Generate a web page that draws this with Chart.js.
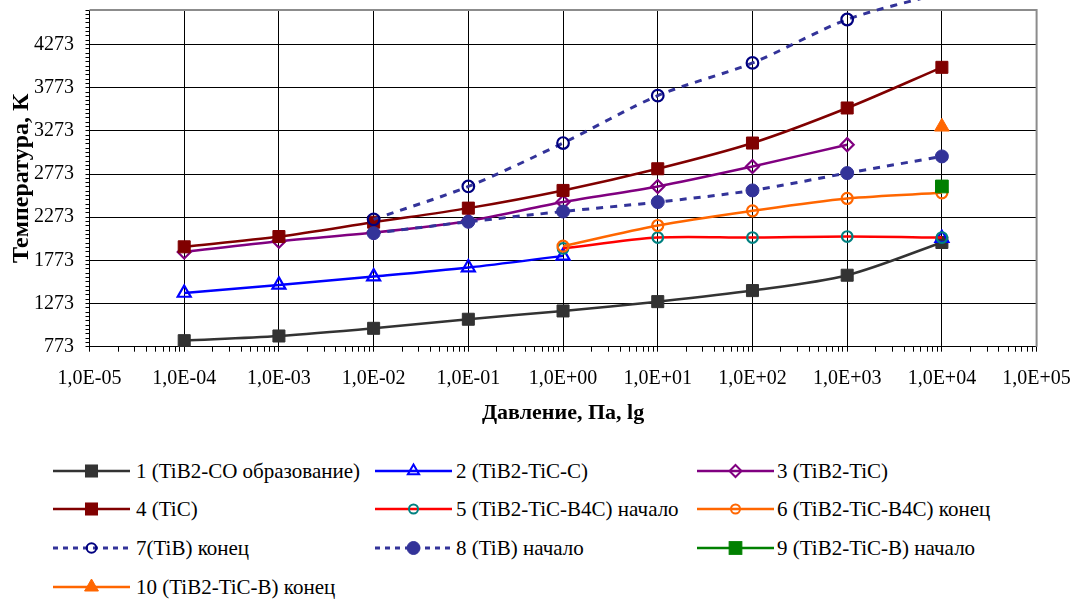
<!DOCTYPE html>
<html>
<head>
<meta charset="utf-8">
<script src="https://cdn.jsdelivr.net/npm/chart.js@4.4.0/dist/chart.umd.min.js"></script>
<style>
html,body{margin:0;padding:0;background:#fff;}
#wrap{position:relative;width:1076px;height:602px;background:#fff;overflow:hidden;}
#c{position:absolute;left:0;top:0;}
.lgt{position:absolute;font-family:"Liberation Serif","Tinos","Times New Roman","DejaVu Serif",serif;font-size:21px;color:#000;white-space:nowrap;line-height:24px;height:24px;}
.lgs{position:absolute;overflow:visible;}
</style>
</head>
<body>
<div id="wrap">
  <canvas id="c" width="1076" height="430"></canvas>
  <div id="legend"></div>
</div>
<script>
// ---------------- data ----------------
const pressure = [1e-4, 1e-3, 1e-2, 1e-1, 1e0, 1e1, 1e2, 1e3, 1e4];
const xTickValues = [1e-5, 1e-4, 1e-3, 1e-2, 1e-1, 1e0, 1e1, 1e2, 1e3, 1e4, 1e5];
const xTickLabels = ['1,0E-05','1,0E-04','1,0E-03','1,0E-02','1,0E-01','1,0E+00','1,0E+01','1,0E+02','1,0E+03','1,0E+04','1,0E+05'];
const yTickLabels = [773, 1273, 1773, 2273, 2773, 3273, 3773, 4273];
const yMin = 773, yMax = 4673, yMinorStep = 50;

const seriesNames = [
  '1 (TiB2-CO образование)',
  '2 (TiB2-TiC-C)',
  '3 (TiB2-TiC)',
  '4 (TiC)',
  '5 (TiB2-TiC-B4C) начало',
  '6 (TiB2-TiC-B4C) конец',
  '7(TiB) конец',
  '8 (TiB) начало',
  '9 (TiB2-TiC-B) начало',
  '10 (TiB2-TiC-B) конец'
];

const s1  = [843, 897, 986, 1091, 1187, 1295, 1423, 1601, 1980];
const s2  = [1395, 1489, 1585, 1690, 1825, null, null, null, 2030];
const s3  = [1870, 1995, 2095, 2230, 2448, 2629, 2861, 3113, null];
const s4  = [1930, 2049, 2215, 2378, 2583, 2834, 3132, 3538, 4009];
const s5  = [null, null, null, null, 1912, 2037, 2037, 2049, 2037];
const s6  = [null, null, null, null, 1938, 2177, 2347, 2490, 2555];
const s7  = [null, null, 2248, 2629, 3132, 3681, 4060, 4563, 4870];
const s8  = [null, null, 2088, 2220, 2339, 2448, 2583, 2784, 2977];
const s9  = [null, null, null, null, null, null, null, null, 2629];
const s10 = [null, null, null, null, null, null, null, null, 3320];
const seriesValues = [s1, s2, s3, s4, s5, s6, s7, s8, s9, s10];

// ---------------- styles ----------------
const lineColors   = ['#333333','#0000FF','#800080','#800000','#FF0000','#FF6600','#333399','#333399','#008000','#FF6600'];
const markerColors = ['#333333','#0000FF','#800080','#800000','#008080','#FF6600','#000080','#333399','#008000','#FF6600'];
const markerShapes = ['rect','triangle','rectRot','rect','circle','circle','circle','circle','rect','triangle'];
const markerFilled = [true,false,false,true,false,false,false,true,true,true];
const markerRadius = [8.5,7.5,6.5,8.5,5.3,5.5,5.8,6.5,9,8.5];
const legendRadius = [8.5,6.5,6,8.5,4.5,4.5,4.8,6.5,9,8];
const dashedLine   = [false,false,false,false,false,false,true,true,false,false];

const FONT = '"Liberation Serif", "Tinos", "Times New Roman", "DejaVu Serif", serif';
Chart.defaults.font.family = FONT;
Chart.defaults.color = '#000';

const isDecade = v => {
  const l = Math.log10(v);
  return Math.abs(l - Math.round(l)) < 1e-9;
};

const datasets = seriesValues.map((vals, i) => ({
  label: seriesNames[i],
  data: pressure.map((p, j) => ({x: p, y: vals[j]})),
  borderColor: lineColors[i],
  borderWidth: dashedLine[i] ? 3 : 2.5,
  borderDash: dashedLine[i] ? [7, 7] : [],
  backgroundColor: markerFilled[i] ? markerColors[i] : 'rgba(0,0,0,0)',
  pointStyle: markerShapes[i],
  pointRadius: markerRadius[i],
  pointBorderColor: markerColors[i],
  pointBackgroundColor: markerFilled[i] ? markerColors[i] : 'rgba(0,0,0,0)',
  pointBorderWidth: markerFilled[i] ? 1 : 2.2,
  tension: 0.3,
  fill: false,
  spanGaps: false,
  clip: i === 6 ? false : undefined,
  order: 10 - i
}));

const framePlugin = {
  id: 'frame',
  beforeDatasetsDraw(chart) {
    const {ctx, chartArea: a} = chart;
    ctx.save();
    ctx.strokeStyle = '#8c8c8c';
    ctx.lineWidth = 2;
    ctx.beginPath();
    ctx.moveTo(a.left, a.top);
    ctx.lineTo(a.right, a.top);
    ctx.lineTo(a.right, a.bottom);
    ctx.stroke();
    ctx.restore();
  }
};

function buildChart() {
  new Chart(document.getElementById('c'), {
    type: 'line',
    data: { datasets },
    plugins: [framePlugin],
    options: {
      responsive: false,
      animation: false,
      devicePixelRatio: 1,
      events: [],
      layout: { padding: { top: 10, right: 39.4, left: 0, bottom: 0 } },
      plugins: { legend: { display: false }, tooltip: { enabled: false } },
      scales: {
        x: {
          type: 'logarithmic',
          min: xTickValues[0],
          max: xTickValues[xTickValues.length - 1],
          afterBuildTicks(scale) {
            const t = [];
            xTickValues.forEach((d, k) => {
              t.push({value: d});
              if (k < xTickValues.length - 1) {
                for (let m = 2; m <= 9; m++) t.push({value: d * m});
              }
            });
            scale.ticks = t;
          },
          afterFit(scale) {
            scale.height = 83.3;
            scale.paddingLeft = 0;
            scale.paddingRight = 0;
          },
          ticks: {
            autoSkip: false,
            maxRotation: 0,
            minRotation: 0,
            padding: 15,
            font: { size: 20, family: FONT },
            color: '#000',
            callback(value) {
              if (!isDecade(value)) return '';
              const k = xTickValues.findIndex(d => Math.abs(Math.log10(d) - Math.log10(value)) < 1e-9);
              return k >= 0 ? xTickLabels[k] : '';
            }
          },
          grid: {
            color: c => (c.tick && isDecade(c.tick.value)) ? '#000' : 'rgba(0,0,0,0)',
            tickColor: '#000',
            tickLength: 5,
            lineWidth: 1
          },
          border: { display: true, color: '#000', width: 1 },
          title: {
            display: true,
            text: 'Давление, Па, lg',
            font: { size: 22, weight: 'bold', family: FONT },
            color: '#000',
            padding: { top: 0, bottom: 3.8 }
          }
        },
        y: {
          type: 'linear',
          min: yMin,
          max: yMax,
          afterBuildTicks(scale) {
            const t = [];
            for (let v = yMin; v <= yMax + 0.001; v += yMinorStep) t.push({value: v});
            scale.ticks = t;
          },
          afterFit(scale) {
            scale.width = 89.5;
            scale.paddingTop = 0;
            scale.paddingBottom = 0;
          },
          ticks: {
            autoSkip: false,
            padding: 11.5,
            font: { size: 20, family: FONT },
            color: '#000',
            callback(value) {
              return yTickLabels.includes(value) ? String(value) : '';
            }
          },
          grid: {
            color: c => (c.tick && yTickLabels.includes(c.tick.value)) ? '#000' : 'rgba(0,0,0,0)',
            tickColor: '#000',
            tickLength: 4,
            lineWidth: 1
          },
          border: { display: true, color: '#000', width: 1 },
          title: {
            display: true,
            text: 'Температура, К',
            font: { size: 24, weight: 'bold', family: FONT },
            color: '#000',
            padding: { top: 7.6, bottom: 0 }
          }
        }
      }
    }
  });
}

// ---------------- legend (HTML) ----------------
const legLineStart = [53.3, 375, 696.7];
const legLineLen = 77;
const legTextX = [136, 456, 777];
const legRowY = [470.7, 509, 547.5, 587];

function markerSvg(shape, cx, cy, r, color, filled) {
  const fill = filled ? color : 'none';
  const sw = filled ? 1 : 2;
  if (shape === 'rect') {
    const s = 2 * Math.SQRT1_2 * r;
    return `<rect x="${cx - s/2}" y="${cy - s/2}" width="${s}" height="${s}" fill="${fill}" stroke="${color}" stroke-width="${sw}"/>`;
  }
  if (shape === 'circle') {
    return `<circle cx="${cx}" cy="${cy}" r="${r}" fill="${fill}" stroke="${color}" stroke-width="${sw}"/>`;
  }
  if (shape === 'triangle') {
    const pts = [[cx, cy - r], [cx + 0.866 * r, cy + 0.5 * r], [cx - 0.866 * r, cy + 0.5 * r]];
    return `<polygon points="${pts.map(p => p.join(',')).join(' ')}" fill="${fill}" stroke="${color}" stroke-width="${sw}"/>`;
  }
  const pts = [[cx, cy - r], [cx + r, cy], [cx, cy + r], [cx - r, cy]];
  return `<polygon points="${pts.map(p => p.join(',')).join(' ')}" fill="${fill}" stroke="${color}" stroke-width="${sw}"/>`;
}

const legend = document.getElementById('legend');
let html = '';
seriesNames.forEach((name, i) => {
  const col = i % 3, row = Math.floor(i / 3);
  const x0 = legLineStart[col], yc = legRowY[row];
  const h = 24;
  const dash = dashedLine[i] ? 'stroke-dasharray="5,5"' : '';
  html += `<svg class="lgs" style="left:${x0}px;top:${yc - h/2}px" width="${legLineLen}" height="${h}">` +
          `<line x1="0" y1="${h/2}" x2="${legLineLen}" y2="${h/2}" stroke="${lineColors[i]}" stroke-width="${dashedLine[i] ? 3 : 2.5}" ${dash}/>` +
          markerSvg(markerShapes[i], legLineLen / 2, h / 2, legendRadius[i], markerColors[i], markerFilled[i]) +
          `</svg>`;
  html += `<div class="lgt" style="left:${legTextX[col]}px;top:${yc - h/2}px">${name}</div>`;
});
legend.innerHTML = html;

if (document.fonts && document.fonts.load) {
  Promise.all([
    document.fonts.load('20px "Liberation Serif"'),
    document.fonts.load('bold 22px "Liberation Serif"')
  ]).then(buildChart, buildChart);
} else {
  buildChart();
}
</script>
</body>
</html>
